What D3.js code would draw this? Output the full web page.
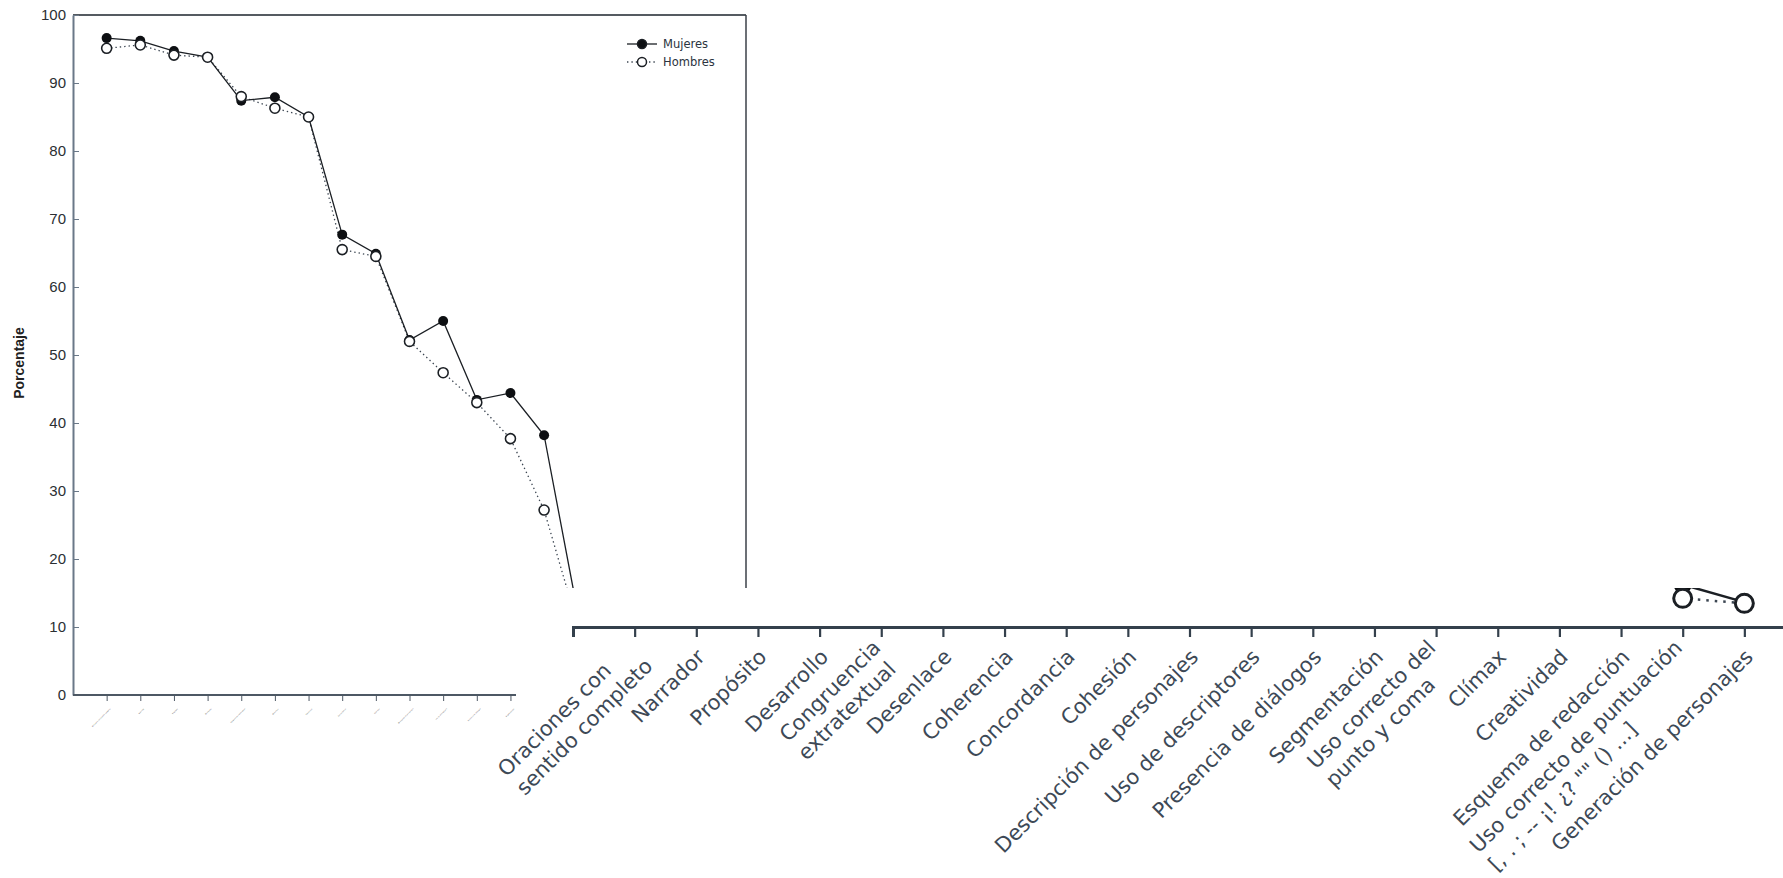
<!DOCTYPE html>
<html>
<head>
<meta charset="utf-8">
<script src="https://cdn.jsdelivr.net/npm/d3@7"></script>
<style>
	body { margin: 0; background: #fff; }
	svg { display: block; }
</style>
</head>
<body>
<script>
"use strict";

/* global d3 */

// categories, in the order of the x axis ("\n" marks a line break in the label)
const categories = [
	"Oraciones con\nsentido completo",
	"Narrador",
	"Propósito",
	"Desarrollo",
	"Congruencia\nextratextual",
	"Desenlace",
	"Coherencia",
	"Concordancia",
	"Cohesión",
	"Descripción de personajes",
	"Uso de descriptores",
	"Presencia de diálogos",
	"Segmentación",
	"Uso correcto del\npunto y coma",
	"Clímax",
	"Creatividad",
	"Esquema de redacción",
	"Uso correcto de puntuación\n[, . ; -- ¡! ¿? \"\" () ...]",
	"Generación de personajes"
];

// percentages (the last ones are hidden by the inset, estimated)
const mujeres = [96.6, 96.2, 94.7, 93.8, 87.4, 87.9, 85.0, 67.7, 64.9, 52.2, 55.0, 43.4, 44.4, 38.2, 12.1, 10.5, 9.0, 3.4, 2.0];
const hombres = [95.1, 95.6, 94.1, 93.8, 88.0, 86.3, 85.0, 65.5, 64.5, 52.0, 47.4, 43.0, 37.7, 27.2, 10.2, 9.3, 8.0, 2.3, 1.9];

const seriesNames = ["Mujeres", "Hombres"];
const yTicks = [0, 10, 20, 30, 40, 50, 60, 70, 80, 90, 100];
const yTitle = "Porcentaje";

const W = 1783, H = 878;
const idx = d3.range(categories.length);

const svg = d3.select("body").append("svg")
	.attr("width", W)
	.attr("height", H);

// ---------------------------------------------------------------
// small chart (left)
// ---------------------------------------------------------------
const x = d3.scalePoint().domain(idx).range([73, 746]).padding(1);
const y = d3.scaleLinear().domain([0, 100]).range([695, 15]);

const main = svg.append("g");

// frame: top and right
main.append("line")
	.attr("x1", x.range()[0]).attr("x2", x.range()[1])
	.attr("y1", y(100)).attr("y2", y(100))
	.attr("stroke", "#555b61").attr("stroke-width", 2);
main.append("line")
	.attr("x1", x.range()[1]).attr("x2", x.range()[1])
	.attr("y1", y(100)).attr("y2", y(0))
	.attr("stroke", "#3b4148").attr("stroke-width", 1.5);

// y axis, ticks pointing inwards
const yAxis = main.append("g")
	.attr("transform", `translate(${x.range()[0]},0)`)
	.call(d3.axisLeft(y).tickValues(yTicks).tickSize(-6).tickSizeOuter(0).tickPadding(7));
yAxis.select(".domain").attr("stroke", "#6a7888").attr("stroke-width", 2);
yAxis.selectAll(".tick line").attr("stroke", "#6a7888");
yAxis.selectAll(".tick text")
	.attr("font-family", "'Liberation Sans', Arial, sans-serif")
	.attr("font-size", 15)
	.attr("fill", "#2b2f33");

main.append("text")
	.attr("transform", `translate(19,${(y(0) + y(100)) / 2 + 8}) rotate(-90)`)
	.attr("text-anchor", "middle")
	.attr("dominant-baseline", "central")
	.attr("font-family", "'Liberation Sans', Arial, sans-serif")
	.attr("font-weight", "bold")
	.attr("font-size", 14)
	.attr("fill", "#222")
	.text(yTitle);

// x axis
const xAxis = main.append("g")
	.attr("transform", `translate(0,${y(0)})`)
	.call(d3.axisBottom(x).tickSize(6).tickSizeOuter(0).tickFormat(""));
xAxis.select(".domain")
	.attr("d", `M${x.range()[0]},0H${x.range()[1]}`)
	.attr("stroke", "#4d5864").attr("stroke-width", 2);
xAxis.selectAll(".tick line").attr("stroke", "#4d5864");

// the labels of the small chart are so small they only show as specks
main.append("g").selectAll("text")
	.data(idx)
	.join("text")
	.attr("transform", d => `translate(${x(d) + 4},${y(0) + 14}) rotate(-45)`)
	.attr("text-anchor", "end")
	.attr("font-family", "'DejaVu Sans', sans-serif")
	.attr("font-size", 1.6)
	.attr("fill", "#333")
	.text(d => categories[d].replace("\n", " "));

function drawSeries(g, xs, ys, r, lw, dots) {
	const lineM = d3.line().x(d => xs(d)).y(d => ys(mujeres[d]));
	const lineH = d3.line().x(d => xs(d)).y(d => ys(hombres[d]));
	g.append("path")
		.attr("d", lineH(idx))
		.attr("fill", "none")
		.attr("stroke", "#3c4652")
		.attr("stroke-width", lw)
		.attr("stroke-dasharray", dots);
	g.append("path")
		.attr("d", lineM(idx))
		.attr("fill", "none")
		.attr("stroke", "#1b1f24")
		.attr("stroke-width", lw);
	g.append("g").selectAll("circle")
		.data(idx)
		.join("circle")
		.attr("cx", d => xs(d))
		.attr("cy", d => ys(mujeres[d]))
		.attr("r", r)
		.attr("fill", "#0d0f12");
	g.append("g").selectAll("circle")
		.data(idx)
		.join("circle")
		.attr("cx", d => xs(d))
		.attr("cy", d => ys(hombres[d]))
		.attr("r", r)
		.attr("fill", "#fff")
		.attr("stroke", "#1b1f24")
		.attr("stroke-width", lw * 1.2);
}

drawSeries(main.append("g"), x, y, 5, 1.3, "1.4,3");

// legend
const legend = main.append("g").attr("transform", "translate(627,44)");
seriesNames.forEach(function(name, i) {
	const row = legend.append("g").attr("transform", `translate(0,${i * 18})`);
	row.append("line")
		.attr("x1", 0).attr("x2", 30)
		.attr("stroke", i === 0 ? "#1b1f24" : "#3c4652")
		.attr("stroke-width", 1.3)
		.attr("stroke-dasharray", i === 0 ? null : "1.4,3");
	row.append("circle")
		.attr("cx", 15).attr("r", 4.5)
		.attr("fill", i === 0 ? "#0d0f12" : "#fff")
		.attr("stroke", "#1b1f24")
		.attr("stroke-width", 1.5);
	row.append("text")
		.attr("x", 36)
		.attr("dy", "0.35em")
		.attr("font-family", "'DejaVu Sans', sans-serif")
		.attr("font-size", 11.5)
		.attr("fill", "#2b3440")
		.text(name);
});

// ---------------------------------------------------------------
// enlarged inset (bottom right), pasted over the small chart
// ---------------------------------------------------------------
const inset = {x: 516, y: 588, w: W - 516, h: H - 588};
const xo = d3.scalePoint().domain(idx).range([573, 1806]).padding(1);
const yo = d3.scaleLinear().domain([0, 100]).range([627, 627 - 1246]);

svg.append("rect")
	.attr("x", inset.x).attr("y", inset.y)
	.attr("width", inset.w).attr("height", inset.h)
	.attr("fill", "#fff");

svg.append("clipPath").attr("id", "insetClip")
	.append("rect")
	.attr("x", inset.x).attr("y", inset.y)
	.attr("width", inset.w).attr("height", inset.h);

const ins = svg.append("g");

// y axis: only the 0 is inside the inset
const yoAxis = ins.append("g")
	.attr("transform", `translate(${xo.range()[0]},0)`)
	.attr("clip-path", "url(#insetClip)")
	.call(d3.axisLeft(yo).tickValues([0]).tickSize(0).tickPadding(16));
yoAxis.select(".domain").attr("stroke", "#34404c").attr("stroke-width", 3);
yoAxis.selectAll(".tick text")
	.attr("font-family", "'Liberation Sans', Arial, sans-serif")
	.attr("font-size", 27)
	.attr("fill", "#2b2f33");

const xoAxis = ins.append("g")
	.attr("transform", `translate(0,${yo(0)})`)
	.call(d3.axisBottom(xo).tickSize(10).tickSizeOuter(10).tickFormat(""));
xoAxis.select(".domain").attr("stroke", "#34404c").attr("stroke-width", 3);
xoAxis.selectAll(".tick line").attr("stroke", "#34404c").attr("stroke-width", 2.2);

// rotated labels, lines left aligned, block ending at the tick
const labelGroups = ins.append("g").selectAll("g")
	.data(idx)
	.join("g")
	.attr("transform", d => `translate(${xo(d)},${yo(0) + 10}) rotate(-45)`);

labelGroups.each(function(d) {
	const g = d3.select(this);
	const lines = categories[d].split("\n");
	const texts = g.selectAll("text")
		.data(lines)
		.join("text")
		.attr("font-family", "'DejaVu Sans', Verdana, sans-serif")
		.attr("font-size", 21)
		.attr("fill", "#3d4956")
		.attr("dominant-baseline", "central")
		.text(l => l);
	const w = d3.max(texts.nodes(), n => n.getComputedTextLength());
	texts
		.attr("x", -8 - w)
		.attr("y", (l, i) => 15 + (i - (lines.length - 1) / 2) * 26);
});

drawSeries(ins.append("g").attr("clip-path", "url(#insetClip)"), xo, yo, 9, 2.5, "2.5,6");
</script>
</body>
</html>
